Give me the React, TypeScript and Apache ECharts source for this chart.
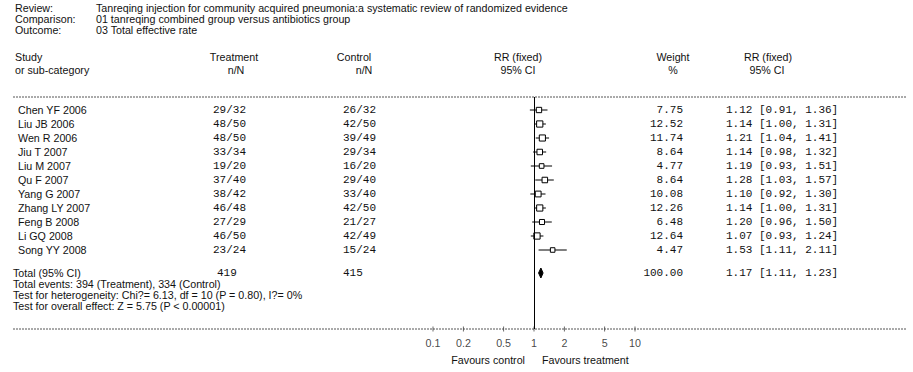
import React, { useEffect, useRef } from "react";
import * as echarts from "echarts";

// ---- data ----
const studies = ["Chen YF 2006", "Liu JB 2006", "Wen R 2006", "Jiu T 2007", "Liu M 2007", "Qu F 2007", "Yang G 2007", "Zhang LY 2007", "Feng B 2008", "Li GQ 2008", "Song YY 2008"];
const treatmentNN = ["29/32", "48/50", "48/50", "33/34", "19/20", "37/40", "38/42", "46/48", "27/29", "46/50", "23/24"];
const controlNN = ["26/32", "42/50", "39/49", "29/34", "16/20", "29/40", "33/40", "42/50", "21/27", "42/49", "15/24"];
const weights = [7.75, 12.52, 11.74, 8.64, 4.77, 8.64, 10.08, 12.26, 6.48, 12.64, 4.47];
const rr = [1.12, 1.14, 1.21, 1.14, 1.19, 1.28, 1.10, 1.14, 1.20, 1.07, 1.53];
const ciLow = [0.91, 1.00, 1.04, 0.98, 0.93, 1.03, 0.92, 1.00, 0.96, 0.93, 1.11];
const ciHigh = [1.36, 1.31, 1.41, 1.32, 1.51, 1.57, 1.30, 1.31, 1.50, 1.24, 2.11];
const totalTreatmentN = 419;
const totalControlN = 415;
const totalWeight = 100.0;
const totalRR = [1.17, 1.11, 1.23];
const tickValues = [0.1, 0.2, 0.5, 1, 2, 5, 10];

const headerLabels = ["Review:", "Comparison:", "Outcome:"];
const headerValues = [
  "Tanreqing injection for community acquired pneumonia:a systematic review of randomized evidence",
  "01 tanreqing combined group versus antibiotics group",
  "03 Total effective rate",
];
const footerLines = [
  "Total events: 394 (Treatment), 334 (Control)",
  "Test for heterogeneity: Chi?= 6.13, df = 10 (P = 0.80), I?= 0%",
  "Test for overall effect: Z = 5.75 (P < 0.00001)",
];

// ---- layout ----
const W = 913;
const H = 372;
const GRID_TOP = 97;
const GRID_H = 232;
const GRID_LEFT = 433;
const GRID_RIGHT_X = 635;
const ROW0 = 13;
const ROW_STEP = 14;
const TOTAL_ROW = 176;
const SANS_FAMILY = '"Liberation Sans", Arial, sans-serif';
const SANS_SIZE = 10.7;
const SANS = SANS_SIZE + 'px ' + SANS_FAMILY;
const MONO = '11px "Liberation Mono", "Courier New", monospace';
const TXT = "#111";

const fmtCI = (a: number, b: number, c: number) => `${a.toFixed(2)} [${b.toFixed(2)}, ${c.toFixed(2)}]`;

function txt(text: string, x: number, y: number, font: string, align: string = "left") {
  return {
    type: "text",
    x,
    y,
    silent: true,
    style: { text, font, fill: TXT, align, verticalAlign: "middle" },
  };
}

export default function App() {
  const ref = useRef<HTMLDivElement>(null);
  useEffect(() => {
    if (!ref.current) return;
    const chart = echarts.init(ref.current, null, { renderer: "svg" });

    const g: any[] = [];
    headerLabels.forEach((l, i) => {
      g.push(txt(l, 15, 8 + i * 11, SANS));
      g.push(txt(headerValues[i], 96, 8 + i * 11, SANS));
    });
    // column headers
    g.push(txt("Study", 15, 57, SANS));
    g.push(txt("or sub-category", 15, 70, SANS));
    g.push(txt("Treatment", 234, 57, SANS, "center"));
    g.push(txt("n/N", 236, 70, SANS, "center"));
    g.push(txt("Control", 354, 57, SANS, "center"));
    g.push(txt("n/N", 364, 70, SANS, "center"));
    g.push(txt("RR (fixed)", 518, 57, SANS, "center"));
    g.push(txt("95% CI", 518, 70, SANS, "center"));
    g.push(txt("Weight", 673, 57, SANS, "center"));
    g.push(txt("%", 673, 70, SANS, "center"));
    g.push(txt("RR (fixed)", 768, 57, SANS, "center"));
    g.push(txt("95% CI", 767, 70, SANS, "center"));

    // dashed rules
    const dashed = (y: number) => ({
      type: "line",
      silent: true,
      shape: { x1: 13, y1: y, x2: 907, y2: y },
      style: { stroke: "#555", lineWidth: 1, lineDash: [2, 1] },
    });
    g.push(dashed(GRID_TOP));
    g.push(dashed(GRID_TOP + GRID_H));

    // study rows
    studies.forEach((s, i) => {
      const y = GRID_TOP + ROW0 + ROW_STEP * i;
      g.push(txt(s, 18, y, SANS));
      g.push(txt(treatmentNN[i], 213, y, MONO));
      g.push(txt(controlNN[i], 343, y, MONO));
      g.push(txt(weights[i].toFixed(2), 683, y, MONO, "right"));
      g.push(txt(fmtCI(rr[i], ciLow[i], ciHigh[i]), 726, y, MONO));
    });
    // total row
    const ty = GRID_TOP + TOTAL_ROW;
    g.push(txt("Total (95% CI)", 13, ty, SANS));
    g.push(txt(String(totalTreatmentN), 217, ty, MONO));
    g.push(txt(String(totalControlN), 343, ty, MONO));
    g.push(txt(totalWeight.toFixed(2), 683, ty, MONO, "right"));
    g.push(txt(fmtCI(totalRR[0], totalRR[1], totalRR[2]), 726, ty, MONO));
    footerLines.forEach((l, i) => g.push(txt(l, 13, ty + 11 + i * 11, SANS)));

    g.push(txt("Favours control", 525, 360, SANS, "right"));
    g.push(txt("Favours treatment", 542, 360, SANS, "left"));

    const studyData = studies.map((_, i) => [rr[i], ciLow[i], ciHigh[i], ROW0 + ROW_STEP * i, weights[i]]);
    const totalData = [[totalRR[0], totalRR[1], totalRR[2], TOTAL_ROW]];

    chart.setOption({
      animation: false,
      backgroundColor: "#fff",
      grid: { left: GRID_LEFT, top: GRID_TOP, width: GRID_RIGHT_X - GRID_LEFT, height: GRID_H, containLabel: false },
      xAxis: {
        type: "log",
        logBase: 10,
        min: 0.1,
        max: 10,
        axisLine: { show: false },
        axisTick: { show: false },
        axisLabel: { show: false },
        splitLine: { show: false },
      },
      yAxis: {
        type: "value",
        inverse: true,
        min: 0,
        max: GRID_H,
        show: false,
        splitLine: { show: false },
      },
      graphic: g,
      series: [
        {
          type: "custom",
          name: "studies",
          data: studyData,
          encode: { x: [0, 1, 2], y: 3 },
          clip: false,
          renderItem: (_p: any, api: any) => {
            const est = api.value(0);
            const lo = api.value(1);
            const hi = api.value(2);
            const y = api.value(3);
            const w = api.value(4);
            const a = api.coord([lo, y]);
            const b = api.coord([hi, y]);
            const c = api.coord([est, y]);
            const s = 2 + Math.sqrt(w) * 1.2;
            return {
              type: "group",
              children: [
                { type: "line", shape: { x1: a[0], y1: a[1], x2: b[0], y2: b[1] }, style: { stroke: "#000", lineWidth: 1 } },
                { type: "rect", shape: { x: c[0] - s / 2, y: c[1] - s / 2, width: s, height: s }, style: { fill: "#fff", stroke: "#000", lineWidth: 1 } },
              ],
            };
          },
          markLine: {
            silent: true,
            symbol: "none",
            label: { show: false },
            lineStyle: { color: "#000", width: 1, type: "solid" },
            data: [{ xAxis: 1 }],
          },
        },
        {
          type: "custom",
          name: "total",
          data: totalData,
          encode: { x: [0, 1, 2], y: 3 },
          clip: false,
          renderItem: (_p: any, api: any) => {
            const est = api.value(0);
            const lo = api.value(1);
            const hi = api.value(2);
            const y = api.value(3);
            const a = api.coord([lo, y]);
            const b = api.coord([hi, y]);
            const c = api.coord([est, y]);
            const h = 5;
            return {
              type: "polygon",
              shape: { points: [[a[0], c[1]], [c[0], c[1] - h], [b[0], c[1]], [c[0], c[1] + h]] },
              style: { fill: "#000", stroke: "#000", lineWidth: 1 },
            };
          },
        },
        {
          type: "scatter",
          name: "ticks",
          data: tickValues.map((v) => [v, GRID_H]),
          symbol: "rect",
          symbolSize: [1, 5],
          itemStyle: { color: "#444" },
          clip: false,
          silent: true,
          label: {
            show: true,
            position: "bottom",
            distance: 6,
            formatter: (p: any) => String(p.value[0]),
            fontSize: SANS_SIZE,
            fontFamily: SANS_FAMILY,
            color: TXT,
          },
        },
      ],
    });
    return () => chart.dispose();
  }, []);
  return <div ref={ref} style={{ position: "fixed", left: 0, top: 0, width: W, height: H, background: "#fff" }} />;
}
